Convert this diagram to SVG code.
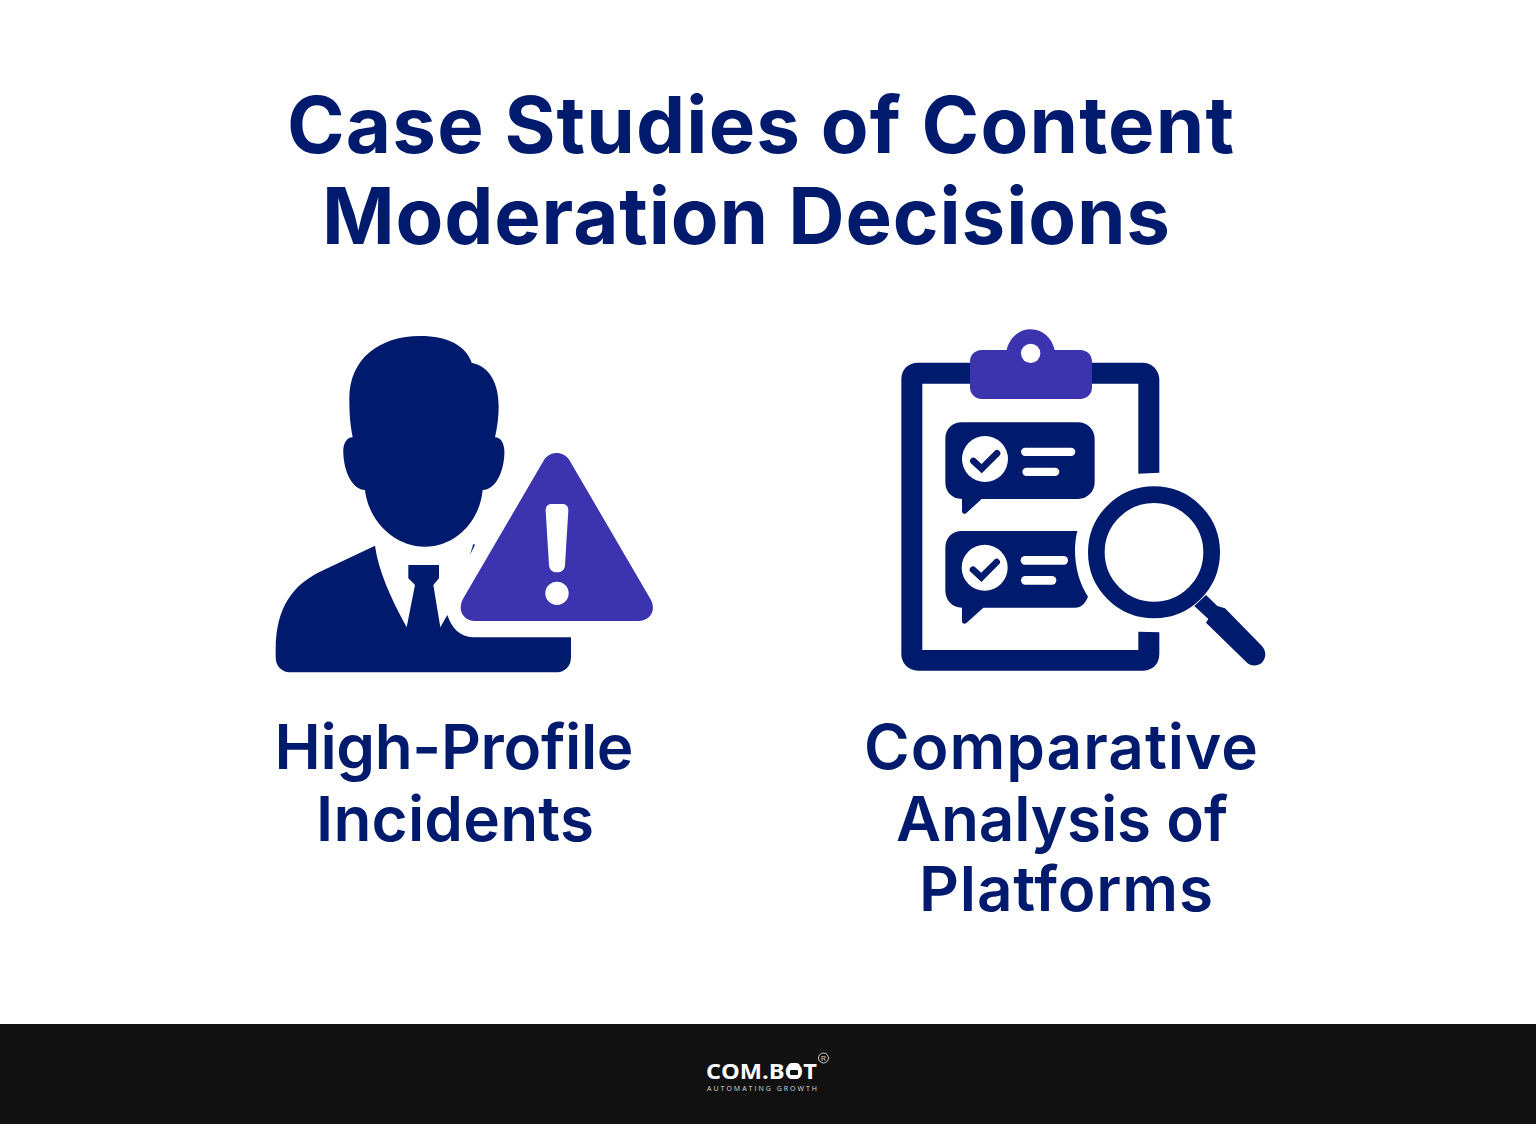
<svg xmlns="http://www.w3.org/2000/svg" width="1536" height="1124" viewBox="0 0 1536 1124">
<style>
.navy{fill:#001b6e}
.purple{fill:#3c34ae}
.white{fill:#fff}
text{font-family:"Inter","Liberation Sans",sans-serif}
.title{font-size:78px;font-weight:650;fill:#001b6e}
.label{font-size:62px;font-weight:560;fill:#001b6e;text-anchor:middle}
.chk{fill:none;stroke:#001b6e;stroke-width:20;stroke-linecap:round;stroke-linejoin:miter}
</style>
<rect width="1536" height="1124" fill="#fff"/>
<g id="title">
<text class="title" x="287" y="153" textLength="947">Case Studies of Content</text>
<text class="title" x="322" y="244" textLength="848">Moderation Decisions</text>
</g>
<g id="node-high-profile">
<g transform="translate(260 320) scale(.33333)">
<path class="navy" d="M480 48C565 48 618 78 635 128C690 140 716 190 716 260C716 290 712 320 705 352C725 352 735 375 733 405C730 460 705 510 668 510C660 600 590 680 495 680C400 680 325 600 315 510C280 510 252 460 250 400C248 375 258 352 278 352C270 310 268 280 268 235C268 115 360 48 480 48Z"/>
<path class="navy" d="M345 677L180 755C100 795 47 860 47 990L47 1010C47 1040 65 1057 95 1057L885 1057C915 1057 933 1040 933 1010L933 952L640 952C600 950 575 925 562 885L541 922L520 795L537 775L537 735L445 735L445 775L465 795L440 922C390 830 355 750 345 677Z"/>
<path class="navy" d="M640 672L645 674L630 704Z"/>
<path class="purple" d="M852 420C870 392 910 392 928 420L1170 835C1192 870 1170 903 1135 903L645 903C610 903 590 870 610 835Z"/>
<path class="white" d="M875 552L907 552C920 552 925 560 925 572L915 735C914 750 905 757 891 757C877 757 868 750 867 735L857 572C857 560 862 552 875 552Z"/>
<circle class="white" cx="891" cy="820" r="35"/>
</g>
<text class="label" x="454" y="769" textLength="359">High-Profile</text>
<text class="label" x="455" y="841" textLength="278">Incidents</text>
</g>
<g id="node-comparative">
<g transform="translate(880 320) scale(.33333)">
<path class="navy" d="M838 458L775 461L775 191L127 191L127 990L775 990L775 935L838 937L838 1002C838 1035 815 1052 788 1052L114 1052C85 1052 64 1030 64 1002L64 178C64 148 85 128 114 128L788 128C815 128 838 150 838 178Z"/>
<path class="purple" d="M380 90C388 55 415 28 452 28C489 28 516 55 524 90L600 90C622 90 636 105 636 125L636 202C636 222 622 237 600 237L305 237C285 237 270 222 270 202L270 125C270 105 285 90 305 90Z"/>
<circle class="white" cx="452" cy="100" r="29"/>
<path class="navy" d="M246 307L594 307C622 307 644 328 644 357L644 487C644 515 622 537 594 537L305 537L260 578C254 584 246 582 246 574L246 537C215 537 196 515 196 487L196 357C196 328 215 307 246 307Z"/>
<circle class="white" cx="315" cy="417" r="69"/>
<path class="chk" d="M280 423L305 446L351 400"/>
<rect class="white" x="423" y="383" width="163" height="25" rx="12.500"/>
<rect class="white" x="427" y="443" width="111" height="25" rx="12.500"/>
<path class="navy" d="M592 633L246 633C215 633 196 655 196 683L196 810C196 840 215 863 246 863L246 903C246 912 255 913 260 908L310 863L585 863C605 863 615 850 624 830C590 780 575 700 592 633Z"/>
<circle class="white" cx="314" cy="743" r="69"/>
<path class="chk" d="M279 749L304 772L350 726"/>
<rect class="white" x="422" y="708" width="142" height="26" rx="13"/>
<rect class="white" x="423" y="768" width="106" height="26" rx="13"/>
<circle cx="822" cy="697" r="173" fill="none" stroke="#001b6e" stroke-width="50"/>
<path class="navy" d="M978 825L943 858L985 897L978 908L1095 1022C1112 1042 1135 1040 1148 1025C1160 1010 1158 990 1145 977L1035 865L1012 858Z"/>
</g>
<text class="label" x="1061" y="769" textLength="394">Comparative</text>
<text class="label" x="1062" y="841" textLength="332">Analysis of</text>
<text class="label" x="1066" y="911" textLength="294">Platforms</text>
</g>
<g id="footer">
<rect x="0" y="1024" width="1536" height="100" fill="#111"/>
<text x="706" y="1079" style="font-family:'Open Sans','Liberation Sans',sans-serif;font-size:21px;font-weight:700" fill="#fff" textLength="111" lengthAdjust="spacingAndGlyphs">COM.BOT</text>
<rect x="788" y="1063" width="12" height="16" rx="4" fill="#fff"/>
<rect x="790" y="1070" width="8" height="5" rx="1" fill="#111"/>
<text x="707" y="1090.500" style="font-family:'Open Sans','Liberation Sans',sans-serif;font-size:7px;font-weight:400" fill="#ddd" textLength="110">AUTOMATING GROWTH</text>
<circle cx="823.500" cy="1058" r="5" fill="none" stroke="#ddd" stroke-width=".9"/>
<text x="823.500" y="1060.500" text-anchor="middle" style="font-family:'Liberation Sans',sans-serif;font-size:7px" fill="#ddd">R</text>
</g>
</svg>
